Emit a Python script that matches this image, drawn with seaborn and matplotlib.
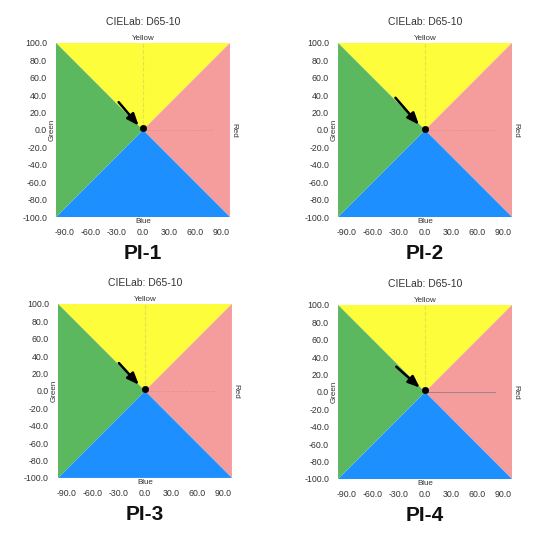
import numpy as np
import pandas as pd
import seaborn as sns
import matplotlib.pyplot as plt

sns.set_style("white")
plt.rcParams["font.family"] = ["Liberation Sans", "DejaVu Sans"]

# quadrant triangles (corner points), colour per hue region
quad_names = ["Yellow", "Red", "Blue", "Green"]
quad_x = [[-100, 100, 0], [100, 100, 0], [100, -100, 0], [-100, -100, 0]]
quad_y = [[100, 100, 0], [100, -100, 0], [-100, -100, 0], [-100, 100, 0]]
quad_colors = ["#fdfd3c", "#f59c9c", "#1e8fff", "#5cb85e"]

panels = ["PI-1", "PI-2", "PI-3", "PI-4"]
# sample point (a*, b*) in each panel
pt_a = [0.0, 0.0, 0.0, 0.0]
pt_b = [2.0, 1.5, 2.0, 2.0]
# arrow start / end
arr_x0 = [-28, -34, -30, -33]
arr_y0 = [32, 37, 32, 29]
arr_x1 = [-5, -7, -7, -6]
arr_y1 = [5, 6, 7, 5]

xticks = [-90, -60, -30, 0, 30, 60, 90]
yticks = [-100, -80, -60, -40, -20, 0, 20, 40, 60, 80, 100]

fig = plt.figure(figsize=(5.47, 5.34), dpi=100)
pos = [(0.1024, 0.5936), (0.618, 0.5936), (0.106, 0.105), (0.618, 0.103)]
W, H = 0.318, 0.326

for i, name in enumerate(panels):
    ax = fig.add_axes([pos[i][0], pos[i][1], W, H])
    for qx, qy, c in zip(quad_x, quad_y, quad_colors):
        ax.fill(qx, qy, color=c, lw=0)
    # faint guide lines
    ax.plot([0, 0], [0, 100], color="#b8b070", lw=0.8, ls="--", alpha=0.35)
    if i == 3:
        ax.plot([0, 80], [0, 0], color="#777777", lw=0.6, alpha=0.8)
    else:
        ax.plot([0, 80], [0, 0], color="#d08080", lw=0.6, ls="--", alpha=0.4)
    df = pd.DataFrame({"a": [pt_a[i]], "b": [pt_b[i]]})
    sns.scatterplot(data=df, x="a", y="b", ax=ax, color="black", s=22,
                    edgecolor="black", zorder=5)
    ax.annotate("", xy=(arr_x1[i], arr_y1[i]), xytext=(arr_x0[i], arr_y0[i]),
                arrowprops=dict(arrowstyle="-|>,head_length=0.7,head_width=0.28",
                                color="black", lw=1.8, shrinkA=0, shrinkB=0))
    ax.set_xlim(-100, 100)
    ax.set_ylim(-100, 100)
    ax.set_xticks(xticks)
    ax.set_yticks(yticks)
    ax.set_xticklabels([f"{t:.1f}" for t in xticks], fontsize=6.3, color="#333333")
    ax.set_yticklabels([f"{t:.1f}" for t in yticks], fontsize=6.3, color="#333333")
    ax.tick_params(axis="x", length=0, pad=8)
    ax.tick_params(axis="y", length=0, pad=6.5)
    for s in ax.spines.values():
        s.set_visible(False)
    ax.set_xlabel("")
    ax.set_ylabel("")
    ax.set_title("CIELab: D65-10", fontsize=7.5, color="#333333", pad=13)
    ax.text(0.5, 1.005, "Yellow", transform=ax.transAxes, ha="center", va="bottom",
            fontsize=5.8, color="#333333")
    ax.text(0.5, -0.005, "Blue", transform=ax.transAxes, ha="center", va="top",
            fontsize=5.8, color="#333333")
    ax.text(-0.003, 0.5, "Green", transform=ax.transAxes, ha="right", va="center",
            rotation=90, fontsize=5.8, color="#333333")
    ax.text(1.005, 0.5, "Red", transform=ax.transAxes, ha="left", va="center",
            rotation=270, fontsize=5.8, color="#333333")
    ax.text(0.5, -0.21, name, transform=ax.transAxes, ha="center", va="center",
            fontsize=15, fontweight="bold", color="#111111")

fig.savefig("out.png", dpi=100)
